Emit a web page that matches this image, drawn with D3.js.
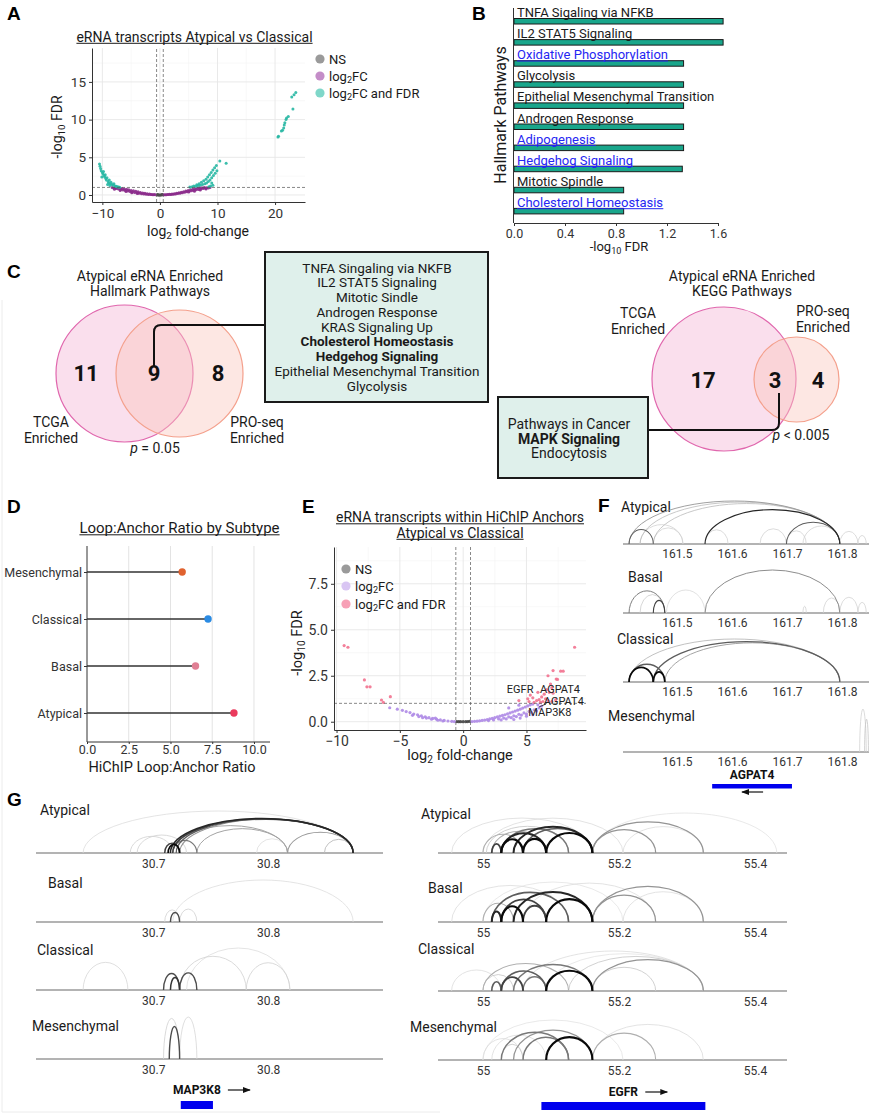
<!DOCTYPE html>
<html lang="en">
<head>
<meta charset="utf-8">
<title>eRNA / HiChIP figure</title>
<script src="https://cdn.jsdelivr.net/npm/d3@7"></script>
<style>
  body { margin: 0; background: #fff; }
  svg { display: block; }
</style>
</head>
<body>
<script>
// ---------- data ----------
// A: volcano, eRNA transcripts Atypical vs Classical  [log2FC, -log10 FDR]
var volcA_ns = [[-0.45,0.03],[-0.3,0.01],[-0.15,0.0],[0,0.0],[0.15,0.01],[0.3,0.02],[0.45,0.04],[-0.4,0.06],[0.4,0.07]];
var volcA_fc = [[-8.3,0.98],[-8.0,0.92],[-7.8,0.97],[-7.6,0.85],[-7.4,0.93],[-7.2,0.78],[-7.0,0.9],[-6.8,0.72],[-6.6,0.85],
  [-6.4,0.66],[-6.2,0.8],[-6.0,0.6],[-5.8,0.75],[-5.6,0.52],[-5.4,0.68],[-5.2,0.46],[-5.0,0.6],[-4.8,0.4],[-4.6,0.55],
  [-4.4,0.34],[-4.2,0.48],[-4.0,0.28],[-3.8,0.42],[-3.6,0.24],[-3.4,0.34],[-3.2,0.18],[-3.0,0.28],[-2.8,0.14],[-2.6,0.22],
  [-2.4,0.1],[-2.2,0.16],[-2.0,0.07],[-1.8,0.12],[-1.6,0.05],[-1.4,0.08],[-1.2,0.03],[-1.0,0.05],[-0.8,0.02],
  [-7.9,0.75],[-6.9,0.6],[-5.9,0.45],[-4.9,0.3],[-3.9,0.2],
  [0.7,0.02],[0.9,0.04],[1.1,0.03],[1.3,0.06],[1.5,0.05],[1.7,0.09],[1.9,0.07],[2.1,0.13],[2.3,0.1],[2.5,0.18],[2.7,0.14],
  [2.9,0.24],[3.1,0.19],[3.3,0.3],[3.5,0.24],[3.7,0.37],[3.9,0.3],[4.1,0.44],[4.3,0.36],[4.5,0.52],[4.7,0.42],[4.9,0.6],
  [5.1,0.48],[5.3,0.68],[5.5,0.55],[5.7,0.76],[5.9,0.62],[6.1,0.84],[6.3,0.68],[6.5,0.9],[6.7,0.74],[6.9,0.95],[7.1,0.8],
  [7.3,0.97],[7.5,0.85],[7.7,0.98],[7.9,0.9],[8.1,0.96],[8.4,0.93],[8.7,0.98],[5.0,0.4],[6.0,0.5],[7.0,0.65],[8.0,0.78]];
var volcA_sig = [[-10.5,4.1],[-10.4,3.8],[-10.3,3.5],[-10.2,3.2],[-10.0,3.0],[-9.9,2.8],[-9.8,3.1],[-9.7,2.6],[-9.6,2.4],
  [-9.5,2.7],[-9.4,2.2],[-9.3,2.0],[-9.2,2.3],[-9.0,1.8],[-8.9,1.6],[-8.8,2.0],[-8.6,1.5],[-8.5,1.7],[-8.3,1.4],[-8.1,1.3],
  [-8.0,1.5],[-7.8,1.2],[-7.6,1.15],[-7.4,1.1],[-7.2,1.05],[-7.0,1.02],[-9.1,1.4],[-8.7,1.25],[-10.1,2.4],
  [5.2,1.05],[5.6,1.1],[5.9,1.2],[6.2,1.15],[6.4,1.35],[6.6,1.25],[6.8,1.5],[7.0,1.3],[7.2,1.7],[7.4,1.4],[7.6,1.9],
  [7.8,1.5],[8.0,2.1],[8.1,1.6],[8.3,2.4],[8.4,1.8],[8.6,2.7],[8.7,2.0],[8.9,3.0],[9.0,2.3],[9.2,3.3],[9.3,2.6],[9.5,3.6],
  [9.6,2.9],[9.8,3.9],[9.9,3.2],[8.8,1.2],[8.5,1.1],[9.2,1.3],[9.0,1.6],[10.4,4.5],[11.5,4.2],
  [20.5,7.7],[20.6,7.8],[21.1,8.5],[21.3,8.6],[21.5,8.9],[21.6,9.3],[21.7,9.6],[21.9,10.0],[22.0,10.2],[22.3,10.4],
  [23.1,11.4],[22.9,13.0],[23.3,13.3],[23.6,13.6]];

// B: Hallmark pathways
var bPathways = ["TNFA Sigaling via NFKB", "IL2 STAT5 Signaling", "Oxidative Phosphorylation", "Glycolysis",
  "Epithelial Mesenchymal Transition", "Androgen Response", "Adipogenesis", "Hedgehog Signaling",
  "Mitotic Spindle", "Cholesterol Homeostasis"];
var bFdr = [1.64, 1.64, 1.33, 1.33, 1.33, 1.33, 1.33, 1.32, 0.86, 0.86];
var bLinked = ["Oxidative Phosphorylation", "Adipogenesis", "Hedgehog Signaling", "Cholesterol Homeostasis"];
var bTicks = [0, 0.4, 0.8, 1.2, 1.6];

// C: venn counts [TCGA only, shared, PRO-seq only]
var hallmarkCounts = [11, 9, 8];
var hallmarkShared = ["TNFA Singaling via NKFB", "IL2 STAT5 Signaling", "Mitotic Sindle", "Androgen Response",
  "KRAS Signaling Up", "Cholesterol Homeostasis", "Hedgehog Signaling", "Epithelial Mesenchymal Transition", "Glycolysis"];
var hallmarkBold = ["Cholesterol Homeostasis", "Hedgehog Signaling"];
var keggCounts = [17, 3, 4];
var keggShared = ["Pathways in Cancer", "MAPK Signaling", "Endocytosis"];
var keggBold = ["MAPK Signaling"];

// D: loop:anchor ratio
var dSubtypes = ["Mesenchymal", "Classical", "Basal", "Atypical"];
var dRatio = [5.7, 7.25, 6.5, 8.8];
var dTicks = [0, 2.5, 5, 7.5, 10];

// E: volcano within HiChIP anchors
var volcE_ns = [[-0.5,0.01],[-0.35,0.0],[-0.2,0.0],[0,0.0],[0.2,0.0],[0.35,0.01],[0.5,0.02]];
var volcE_fc = [[-5.8,0.76],[-5.2,0.68],[-4.8,0.62],[-4.5,0.55],[-4.2,0.5],[-3.9,0.42],[-3.6,0.38],[-3.3,0.32],[-3.0,0.27],
  [-2.7,0.22],[-2.4,0.18],[-2.1,0.14],[-1.8,0.1],[-1.5,0.07],[-1.2,0.04],[-0.9,0.02],[-0.7,0.01],[-4.0,0.35],[-3.5,0.28],
  [-2.9,0.2],[-2.5,0.14],[-2.0,0.08],[-1.6,0.04],[-2.2,0.2],[-3.2,0.22],
  [0.7,0.01],[0.9,0.02],[1.1,0.03],[1.3,0.05],[1.5,0.07],[1.7,0.09],[1.9,0.12],[2.1,0.15],[2.3,0.18],[2.5,0.22],[2.7,0.26],
  [2.9,0.3],[3.1,0.34],[3.3,0.38],[3.5,0.43],[3.7,0.48],[3.9,0.53],[4.1,0.58],[4.3,0.63],[4.5,0.68],[4.7,0.74],[4.9,0.8],
  [5.1,0.86],[5.3,0.92],[5.5,0.96],[2.0,0.06],[2.4,0.1],[2.8,0.15],[3.2,0.2],[3.6,0.26],[4.0,0.32],[4.4,0.4],[4.8,0.48],
  [5.2,0.56],[5.6,0.65],[6.0,0.75],[6.2,0.85],[3.0,0.1],[3.4,0.15],[3.8,0.22],[4.2,0.28],[4.6,0.36],[5.0,0.42],[5.4,0.5],
  [5.8,0.58],[4.0,0.12],[4.5,0.2],[5.0,0.3],[5.5,0.38],[4.4,0.9],[3.6,0.75],[5.9,0.92]];
var volcE_sig = [[-9.4,4.14],[-9.1,4.05],[-7.8,2.27],[-7.6,1.9],[-7.35,1.9],[-6.45,1.18],[-6.3,1.05],[-5.75,1.36],
  [8.8,4.05],[7.1,2.78],[7.7,2.75],[7.9,2.75],[6.7,2.5],[7.35,2.32],[7.45,2.3],[6.9,2.05],[7.0,1.85],[6.6,1.75],[6.8,1.6],
  [7.1,1.55],[6.4,1.5],[6.2,1.35],[6.5,1.25],[6.0,1.2],[5.8,1.15],[5.5,1.3],[5.3,1.45],[5.1,1.25],[5.6,1.05],[6.3,1.1],
  [6.7,1.15],[7.0,1.1],[7.3,1.2],[5.9,1.6],[4.4,1.15],[5.2,1.1],[6.1,1.05]];
var eGeneNames = ["EGFR", "AGPAT4", "AGPAT4", "MAP3K8"];
var eGeneAt = [[4.5, 1.78], [7.65, 1.78], [7.95, 1.13], [6.85, 0.53]];

// F, G: HiChIP loops per subtype [start Mb, end Mb, loop score]
var subtypes = ["Atypical", "Basal", "Classical", "Mesenchymal"];
var fAtypical = [[161.413,161.457,3.5],[161.413,161.796,2.5],[161.433,161.796,1.8],[161.457,161.796,1.8],[161.551,161.796,4.5],
  [161.699,161.796,3.5],[161.433,161.511,1.4],[161.457,161.511,1.4],[161.551,161.593,1.4],[161.651,161.699,1.4],
  [161.699,161.735,1.4],[161.729,161.796,1.4],[161.796,161.829,1.4],[161.829,161.844,1.4]];
var fBasal = [[161.413,161.478,3],[161.433,161.478,1.5],[161.457,161.478,4],[161.481,161.551,1.3],[161.551,161.796,2.8],
  [161.729,161.735,1.4],[161.766,161.796,1.4],[161.796,161.829,1.4],[161.829,161.844,1.4]];
var fClassical = [[161.413,161.457,5],[161.413,161.478,3.5],[161.457,161.478,5],[161.413,161.796,1.8],[161.457,161.796,3.5],
  [161.478,161.796,2.2]];
var fMesenchymal = [[161.832,161.844,1.4],[161.841,161.848,1.6]];
var fTicks = [161.5, 161.6, 161.7, 161.8];
var fGene = ["AGPAT4", 161.564, 161.709, -1];

var g1Atypical = [[30.639,30.874,1.2],[30.715,30.874,4.5],[30.717,30.874,4],[30.720,30.874,3.5],[30.723,30.874,2.5],
  [30.710,30.723,4],[30.713,30.723,5],[30.717,30.738,3],[30.680,30.717,1.4],[30.686,30.729,1.4],[30.717,30.817,2.2],
  [30.738,30.817,2.2],[30.817,30.874,2.4],[30.849,30.874,1.8],[30.790,30.817,1.2]];
var g1Basal = [[30.717,30.874,1.2],[30.715,30.723,3.8],[30.710,30.723,1.4],[30.723,30.738,1.4]];
var g1Classical = [[30.729,30.819,1.2],[30.639,30.678,1.3],[30.709,30.723,3.8],[30.715,30.723,4.2],[30.723,30.738,3.8],
  [30.723,30.781,1.4],[30.781,30.819,1.4]];
var g1Mesenchymal = [[30.709,30.723,1.4],[30.714,30.723,3.8],[30.723,30.738,1.3]];
var g1Ticks = [30.7, 30.8];
var g1Gene = ["MAP3K8", 30.724, 30.752, 1];

var g2Atypical = [[55.013,55.027,4],[55.027,55.059,5],[55.059,55.093,5],[55.093,55.161,5],[55.027,55.093,4.5],
  [55.045,55.161,4.5],[55.059,55.161,3.5],[55.027,55.126,3],[55.161,55.254,2.5],[55.161,55.324,2.5],[55.000,55.059,2],
  [55.013,55.093,2],[55.005,55.126,1.5],[54.954,55.161,1.2],[55.161,55.432,1.1],[55.000,55.206,1.2],[55.206,55.324,1.2]];
var g2Basal = [[55.013,55.027,4.5],[55.027,55.059,5],[55.059,55.093,4],[55.093,55.161,5],[55.027,55.093,4],
  [55.045,55.161,4.5],[55.013,55.126,3.5],[55.000,55.045,2],[55.161,55.254,2.5],[55.161,55.324,2.5],[54.954,55.126,1.2],
  [55.059,55.254,1.2],[55.206,55.324,1.2],[55.000,55.206,1.1]];
var g2Classical = [[55.013,55.027,3.5],[55.027,55.059,4],[55.093,55.161,5],[55.059,55.093,3],[55.027,55.093,3.5],
  [55.045,55.161,3],[55.000,55.045,1.5],[55.000,55.126,2],[54.954,55.027,1.2],[55.161,55.324,2.5],[55.126,55.324,1.5],
  [55.161,55.254,1.5],[55.059,55.324,1.2],[55.093,55.324,1.1]];
var g2Mesenchymal = [[55.093,55.161,5],[55.059,55.126,3],[55.027,55.126,3],[55.045,55.161,2.5],[55.027,55.059,1.5],
  [55.000,55.059,1.2],[55.013,55.093,1.2],[55.161,55.254,2],[55.161,55.324,1.2],[55.000,55.206,1.1]];
var g2Ticks = [55, 55.2, 55.4];
var g2Gene = ["EGFR", 55.086, 55.327, 1];

// ---------- helpers ----------
var FONT = "Roboto, 'Liberation Sans', sans-serif";
var HEAD = "'Liberation Sans', Arial, sans-serif";
var svg = d3.select("body").append("svg")
            .attr("width", 872).attr("height", 1114)
            .attr("font-family", FONT);
svg.append("rect").attr("width", 872).attr("height", 1114).attr("fill", "#fff");

svg.append("defs").append("marker")
   .attr("id", "arr").attr("viewBox", "0 0 8 6").attr("refX", 7).attr("refY", 3)
   .attr("markerWidth", 8).attr("markerHeight", 6).attr("markerUnits", "userSpaceOnUse").attr("orient", "auto")
   .append("path").attr("d", "M0,0L8,3L0,6z").attr("fill", "#111");

// parts: strings are normal text, one-element arrays are subscripts
function rich(t, parts, size) {
    var sub = false;
    parts.forEach(function(p) {
        var ts = t.append("tspan");
        if (Array.isArray(p)) {
            ts.text(p[0]).attr("font-size", size * 0.7).attr("dy", sub ? 0 : size * 0.22);
            sub = true;
        } else {
            ts.text(p).attr("dy", sub ? -size * 0.22 : 0);
            sub = false;
        }
    });
}

function label(x, y, str, size, o) {
    o = o || {};
    var t = svg.append("text").attr("x", x).attr("y", y).attr("font-size", size)
               .attr("text-anchor", o.anchor || "start")
               .attr("fill", o.fill || "#1a1a1a")
               .attr("font-weight", o.bold ? "bold" : null)
               .attr("font-style", o.italic ? "italic" : null)
               .attr("font-family", o.family || FONT);
    if (o.rotate) t.attr("transform", "rotate(-90," + x + "," + y + ")");
    if (Array.isArray(str)) rich(t, str, size); else t.text(str);
    if (o.underline) {
        var b = t.node().getBBox();
        svg.append("line").attr("x1", b.x).attr("x2", b.x + b.width)
           .attr("y1", y + 1.8).attr("y2", y + 1.8)
           .attr("stroke", o.fill || "#1a1a1a").attr("stroke-width", 1);
    }
    return t;
}

function styleAxis(g, size) {
    g.attr("font-family", FONT).attr("font-size", size);
    g.selectAll("text").attr("fill", "#333");
    g.selectAll("line,path").attr("stroke", "#333");
}

function volcano(o) {
    var x = o.x, y = o.y, xr = x.range(), yr = y.range();
    var g = svg.append("g");
    function vgrid(vals, col, w) {
        g.selectAll(null).data(vals).join("line")
         .attr("x1", d => x(d)).attr("x2", d => x(d)).attr("y1", yr[0]).attr("y2", yr[1])
         .attr("stroke", col).attr("stroke-width", w);
    }
    function hgrid(vals, col, w) {
        g.selectAll(null).data(vals).join("line")
         .attr("y1", d => y(d)).attr("y2", d => y(d)).attr("x1", xr[0]).attr("x2", xr[1])
         .attr("stroke", col).attr("stroke-width", w);
    }
    vgrid(o.xMinor, "#f3f3f3", 0.6); hgrid(o.yMinor, "#f3f3f3", 0.6);
    vgrid(o.xMajor, "#e6e6e6", 0.9); hgrid(o.yMajor, "#e6e6e6", 0.9);
    o.sets.forEach(function(s, i) {
        g.selectAll(null).data(s).join("circle")
         .attr("cx", d => x(d[0])).attr("cy", d => y(d[1])).attr("r", o.r)
         .attr("fill", o.cols[i]).attr("fill-opacity", 0.9);
    });
    g.selectAll(null).data([-o.fc, o.fc]).join("line")
     .attr("x1", d => x(d)).attr("x2", d => x(d)).attr("y1", yr[0]).attr("y2", yr[1])
     .attr("stroke", "#555").attr("stroke-width", 0.7).attr("stroke-dasharray", "3,2");
    g.append("line").attr("x1", xr[0]).attr("x2", xr[1]).attr("y1", y(o.fdr)).attr("y2", y(o.fdr))
     .attr("stroke", "#555").attr("stroke-width", 0.7).attr("stroke-dasharray", "3,2");
    var ax = g.append("g").attr("transform", "translate(0," + yr[0] + ")")
              .call(d3.axisBottom(x).tickValues(o.xMajor).tickSize(3).tickSizeOuter(0));
    var ay = g.append("g").attr("transform", "translate(" + xr[0] + ",0)")
              .call(d3.axisLeft(y).tickValues(o.yMajor).tickFormat(o.yFmt).tickSize(3).tickSizeOuter(0));
    styleAxis(ax, o.tick); styleAxis(ay, o.tick);
}

function legend(x, ys, texts, cols) {
    texts.forEach(function(t, i) {
        svg.append("circle").attr("cx", x).attr("cy", ys[i]).attr("r", 4.6).attr("fill", cols[i]);
        label(x + 9, ys[i] + 4.5, t, 13);
    });
}

var shade = d3.scaleLinear().domain([1, 5]).range(["#e6e6e6", "#0a0a0a"]);

function arcTrack(xs, base, arcs, H, ticks, tickPad, wMax) {
    var span = d3.scaleSqrt().domain([0, d3.max(arcs, a => a[1] - a[0])]).range([0, H]);
    var weight = d3.scaleLinear().domain([1, 5]).range([0.7, wMax]);
    var r = xs.range();
    svg.append("line").attr("x1", r[0]).attr("x2", r[1]).attr("y1", base).attr("y2", base)
       .attr("stroke", "#9a9a9a").attr("stroke-width", 1.5);
    svg.append("g").selectAll("path")
       .data(arcs.slice().sort((a, b) => a[2] - b[2]))
       .join("path")
       .attr("d", function(a) {
           var x1 = xs(a[0]), x2 = xs(a[1]);
           return "M" + x1 + "," + base + "A" + ((x2 - x1) / 2) + "," + span(a[1] - a[0]) + " 0 0 1 " + x2 + "," + base;
       })
       .attr("fill", "none")
       .attr("stroke", a => shade(a[2]))
       .attr("stroke-width", a => weight(a[2]));
    var ax = svg.append("g").attr("transform", "translate(0," + base + ")")
                .call(d3.axisBottom(xs).tickValues(ticks).tickFormat(d => String(d)).tickSize(0).tickPadding(tickPad));
    ax.select(".domain").remove();
    styleAxis(ax, 12);
}

function gene(xs, gd, labelY, barY) {
    var t = label((xs(gd[1]) + xs(gd[2])) / 2, labelY, gd[0], 12, {anchor: "middle", bold: true, fill: "#111"});
    svg.append("rect").attr("x", xs(gd[1])).attr("y", barY).attr("width", xs(gd[2]) - xs(gd[1]))
       .attr("height", gd[3] < 0 ? 4.5 : 8).attr("fill", "#0000ee");
    var b = t.node().getBBox();
    if (gd[3] > 0) {
        svg.append("line").attr("x1", b.x + b.width + 7).attr("x2", b.x + b.width + 29)
           .attr("y1", labelY - 4).attr("y2", labelY - 4)
           .attr("stroke", "#111").attr("stroke-width", 1.2).attr("marker-end", "url(#arr)");
    } else {
        var cx = b.x + b.width / 2;
        svg.append("line").attr("x1", cx + 11).attr("x2", cx - 10)
           .attr("y1", barY + 8).attr("y2", barY + 8)
           .attr("stroke", "#111").attr("stroke-width", 1.2).attr("marker-end", "url(#arr)");
    }
}

// faint frame on the left / bottom
svg.append("path").attr("d", "M2,300V1112H440").attr("fill", "none").attr("stroke", "#ececec");

// ---------- A ----------
label(7, 20, "A", 19, {bold: true, family: HEAD, fill: "#000"});
label(194.5, 41.5, "eRNA transcripts Atypical vs Classical", 14, {anchor: "middle", underline: true});
var xA = d3.scaleLinear().domain([-11.8, 25.2]).range([92, 305]);
var yA = d3.scaleLinear().domain([-0.93, 19.5]).range([202, 48]);
volcano({x: xA, y: yA, xMajor: [-10, 0, 10, 20], xMinor: [-5, 5, 15], yMajor: [0, 5, 10, 15], yMinor: [2.5, 7.5, 12.5, 17.5],
         fc: 0.58, fdr: 1, sets: [volcA_ns, volcA_fc, volcA_sig], cols: ["#4d4d4d", "#8b2b8b", "#27b7a3"],
         r: 1.5, yFmt: d3.format("d"), tick: 13.5});
label(198, 236, ["log", ["2"], " fold-change"], 14, {anchor: "middle"});
label(62, 127, ["-log", ["10"], " FDR"], 14, {anchor: "middle", rotate: true});
legend(320, [59, 76, 93], [["NS"], ["log", ["2"], "FC"], ["log", ["2"], "FC and FDR"]], ["#9a9a9a", "#c48dc8", "#7fd7c9"]);

// ---------- B ----------
label(472, 20, "B", 19, {bold: true, family: HEAD, fill: "#000"});
var yB = d3.scaleBand().domain(bPathways).range([3, 214]);
var xB = d3.scaleLinear().domain([0, 1.6]).range([514, 718]);
svg.append("g").selectAll("rect").data(bPathways).join("rect")
   .attr("x", xB(0)).attr("y", d => yB(d) + 15.5)
   .attr("width", (d, i) => xB(bFdr[i]) - xB(0)).attr("height", 5.5)
   .attr("fill", "#19a68b").attr("stroke", "#1a1a1a").attr("stroke-width", 1);
bPathways.forEach(function(p) {
    var linked = bLinked.indexOf(p) >= 0;
    label(517, yB(p) + 14, p, 13, {fill: linked ? "#2626f2" : "#1a1a1a", underline: linked});
});
svg.append("line").attr("x1", 513.5).attr("x2", 513.5).attr("y1", 8).attr("y2", 223)
   .attr("stroke", "#333").attr("stroke-width", 1);
var axB = svg.append("g").attr("transform", "translate(0,223)")
             .call(d3.axisBottom(xB).tickValues(bTicks).tickFormat(d3.format(".1f")).tickSize(3).tickSizeOuter(0));
styleAxis(axB, 12.5);
label(619, 251, ["-log", ["10"], " FDR"], 13, {anchor: "middle"});
label(506, 115, "Hallmark Pathways", 16, {anchor: "middle", rotate: true});

// ---------- C ----------
label(7, 278, "C", 19, {bold: true, family: HEAD, fill: "#000"});
function venn(c1, c2, counts, numX, numY) {
    svg.append("circle").attr("cx", c1[0]).attr("cy", c1[1]).attr("r", c1[2])
       .attr("fill", "#f4b9d8").attr("fill-opacity", 0.45).attr("stroke", "#e066ad").attr("stroke-width", 1.2);
    svg.append("circle").attr("cx", c2[0]).attr("cy", c2[1]).attr("r", c2[2])
       .attr("fill", "#fbc6bc").attr("fill-opacity", 0.42).attr("stroke", "#f4a08c").attr("stroke-width", 1.2);
    counts.forEach(function(n, i) {
        label(numX[i], numY, String(n), 22, {anchor: "middle", bold: true, fill: "#111"});
    });
}
label(150, 281, "Atypical eRNA Enriched", 14, {anchor: "middle"});
label(150, 296, "Hallmark Pathways", 14, {anchor: "middle"});
venn([124.5, 373.5, 68.5], [179.5, 373.5, 63.5], hallmarkCounts, [86, 154, 218], 381);
label(51, 427, "TCGA", 14, {anchor: "middle"});
label(51, 443, "Enriched", 14, {anchor: "middle"});
label(257, 427, "PRO-seq", 14, {anchor: "middle"});
label(257, 443, "Enriched", 14, {anchor: "middle"});
var pl = label(155, 453, "", 14, {anchor: "middle"});
pl.append("tspan").attr("font-style", "italic").text("p");
pl.append("tspan").text(" = 0.05");
svg.append("path").attr("d", "M154,366V332Q154,325 161,325H265")
   .attr("fill", "none").attr("stroke", "#111").attr("stroke-width", 2);
svg.append("rect").attr("x", 265).attr("y", 252).attr("width", 223).attr("height", 150)
   .attr("fill", "#dff0eb").attr("stroke", "#1a1a1a").attr("stroke-width", 2);
hallmarkShared.forEach(function(p, i) {
    label(377, 272.5 + i * 14.75, p, 13.5, {anchor: "middle", bold: hallmarkBold.indexOf(p) >= 0});
});

label(742, 281, "Atypical eRNA Enriched", 14, {anchor: "middle"});
label(742, 296, "KEGG Pathways", 14, {anchor: "middle"});
label(638, 318, "TCGA", 14, {anchor: "middle"});
label(638, 334, "Enriched", 14, {anchor: "middle"});
label(823, 316, "PRO-seq", 14, {anchor: "middle"});
label(823, 332, "Enriched", 14, {anchor: "middle"});
venn([724, 379, 72], [796.5, 379.5, 42.5], keggCounts, [703, 775, 818], 388);
var pr = label(801, 440, "", 14, {anchor: "middle"});
pr.append("tspan").attr("font-style", "italic").text("p");
pr.append("tspan").text(" < 0.005");
svg.append("path").attr("d", "M779,393V423Q779,430 772,430H648")
   .attr("fill", "none").attr("stroke", "#111").attr("stroke-width", 2);
svg.append("rect").attr("x", 498).attr("y", 397).attr("width", 150).attr("height", 81)
   .attr("fill", "#dff0eb").attr("stroke", "#1a1a1a").attr("stroke-width", 2);
keggShared.forEach(function(p, i) {
    label(569, 429 + i * 14.5, p, 14, {anchor: "middle", bold: keggBold.indexOf(p) >= 0});
});

// ---------- D ----------
label(7, 513, "D", 19, {bold: true, family: HEAD, fill: "#000"});
label(179.5, 533, "Loop:Anchor Ratio by Subtype", 15, {anchor: "middle", underline: true});
var xD = d3.scaleLinear().domain([0, 10.96]).range([87, 270]);
var yD = d3.scalePoint().domain(dSubtypes).range([572, 713]);
var dColor = d3.scaleOrdinal().domain(dSubtypes).range(["#e0622f", "#2b8be3", "#e07f94", "#ea3a5c"]);
svg.append("g").selectAll("line").data(dTicks.slice(1)).join("line")
   .attr("x1", d => xD(d)).attr("x2", d => xD(d)).attr("y1", 546).attr("y2", 742)
   .attr("stroke", "#e3e3e3").attr("stroke-width", 1);
svg.append("g").selectAll("line").data(dSubtypes).join("line")
   .attr("x1", xD(0)).attr("x2", (d, i) => xD(dRatio[i])).attr("y1", d => yD(d)).attr("y2", d => yD(d))
   .attr("stroke", "#333").attr("stroke-width", 1.5);
svg.append("g").selectAll("circle").data(dSubtypes).join("circle")
   .attr("cx", (d, i) => xD(dRatio[i])).attr("cy", d => yD(d)).attr("r", 3.7)
   .attr("fill", d => dColor(d));
svg.append("path").attr("d", "M87,546V742H270").attr("fill", "none").attr("stroke", "#333").attr("stroke-width", 1);
var axDy = svg.append("g").attr("transform", "translate(87,0)").call(d3.axisLeft(yD).tickSize(3).tickPadding(2));
axDy.select(".domain").remove();
styleAxis(axDy, 12.5);
var axDx = svg.append("g").attr("transform", "translate(0,742)")
              .call(d3.axisBottom(xD).tickValues(dTicks).tickFormat(d3.format(".1f")).tickSize(2).tickPadding(1));
axDx.select(".domain").remove();
styleAxis(axDx, 12.5);
label(172, 772, "HiChIP Loop:Anchor Ratio", 14.5, {anchor: "middle"});

// ---------- E ----------
label(302, 513, "E", 19, {bold: true, family: HEAD, fill: "#000"});
label(460, 522, "eRNA transcripts within HiChIP Anchors", 14, {anchor: "middle", underline: true});
label(460, 537.5, "Atypical vs Classical", 14, {anchor: "middle", underline: true});
var xE = d3.scaleLinear().domain([-10.2, 9.7]).range([334, 586]);
var yE = d3.scaleLinear().domain([-0.45, 9.5]).range([730, 547]);
volcano({x: xE, y: yE, xMajor: [-10, -5, 0, 5], xMinor: [-7.5, -2.5, 2.5, 7.5], yMajor: [0, 2.5, 5, 7.5],
         yMinor: [1.25, 3.75, 6.25, 8.75], fc: 0.58, fdr: 1, sets: [volcE_ns, volcE_fc, volcE_sig],
         cols: ["#444", "#ae8ae6", "#f2728f"], r: 1.6, yFmt: d3.format(".1f"), tick: 14});
legend(346, [569, 586, 604], [["NS"], ["log", ["2"], "FC"], ["log", ["2"], "FC and FDR"]], ["#9a9a9a", "#d9c6f3", "#f7a0b6"]);
eGeneNames.forEach(function(n, i) {
    svg.append("text").attr("x", xE(eGeneAt[i][0])).attr("y", yE(eGeneAt[i][1]) + 4)
       .attr("text-anchor", "middle").attr("font-size", 11).attr("fill", "#222").text(n);
});
svg.append("line").attr("x1", 546).attr("x2", 539).attr("y1", 704).attr("y2", 707).attr("stroke", "#222").attr("stroke-width", 0.8);
label(460, 760, ["log", ["2"], " fold-change"], 14.5, {anchor: "middle"});
label(302, 643, ["-log", ["10"], " FDR"], 14.5, {anchor: "middle", rotate: true});

// ---------- F ----------
label(598, 512, "F", 19, {bold: true, family: HEAD, fill: "#000"});
var xF = d3.scaleLinear().domain([161.402, 161.849]).range([623, 869]);
var fTracks = [fAtypical, fBasal, fClassical, fMesenchymal];
var fBase = [544, 613, 682, 752];
var fLab = [[621, 512], [628, 582], [617, 644], [608, 721]];
fTracks.forEach(function(arcs, i) {
    label(fLab[i][0], fLab[i][1], subtypes[i], 14);
    arcTrack(xF, fBase[i], arcs, 43, fTicks, 5.5, i == 2 ? 1.7 : 1.2);
});
gene(xF, fGene, 779, 784);

// ---------- G ----------
label(7, 806, "G", 19, {bold: true, family: HEAD, fill: "#000"});
var xG1 = d3.scaleLinear().domain([30.598, 30.900]).range([36, 383]);
var xG2 = d3.scaleLinear().domain([54.934, 55.447]).range([438, 787]);
var g1Tracks = [g1Atypical, g1Basal, g1Classical, g1Mesenchymal];
var g2Tracks = [g2Atypical, g2Basal, g2Classical, g2Mesenchymal];
var g1Base = [853, 922, 990, 1059], g2Base = [853, 922, 991, 1060];
var g1Lab = [[40, 815], [48, 888], [37, 955], [32, 1031]];
var g2Lab = [[421, 819], [428, 893], [418, 954], [410, 1032]];
g1Tracks.forEach(function(arcs, i) {
    label(g1Lab[i][0], g1Lab[i][1], subtypes[i], 14);
    arcTrack(xG1, g1Base[i], arcs, 42, g1Ticks, 6.5, 1.7);
});
g2Tracks.forEach(function(arcs, i) {
    label(g2Lab[i][0], g2Lab[i][1], subtypes[i], 14);
    arcTrack(xG2, g2Base[i], arcs, 40, g2Ticks, 6.5, 2.2);
});
gene(xG1, g1Gene, 1094, 1101);
gene(xG2, g2Gene, 1096, 1102);
</script>
</body>
</html>
